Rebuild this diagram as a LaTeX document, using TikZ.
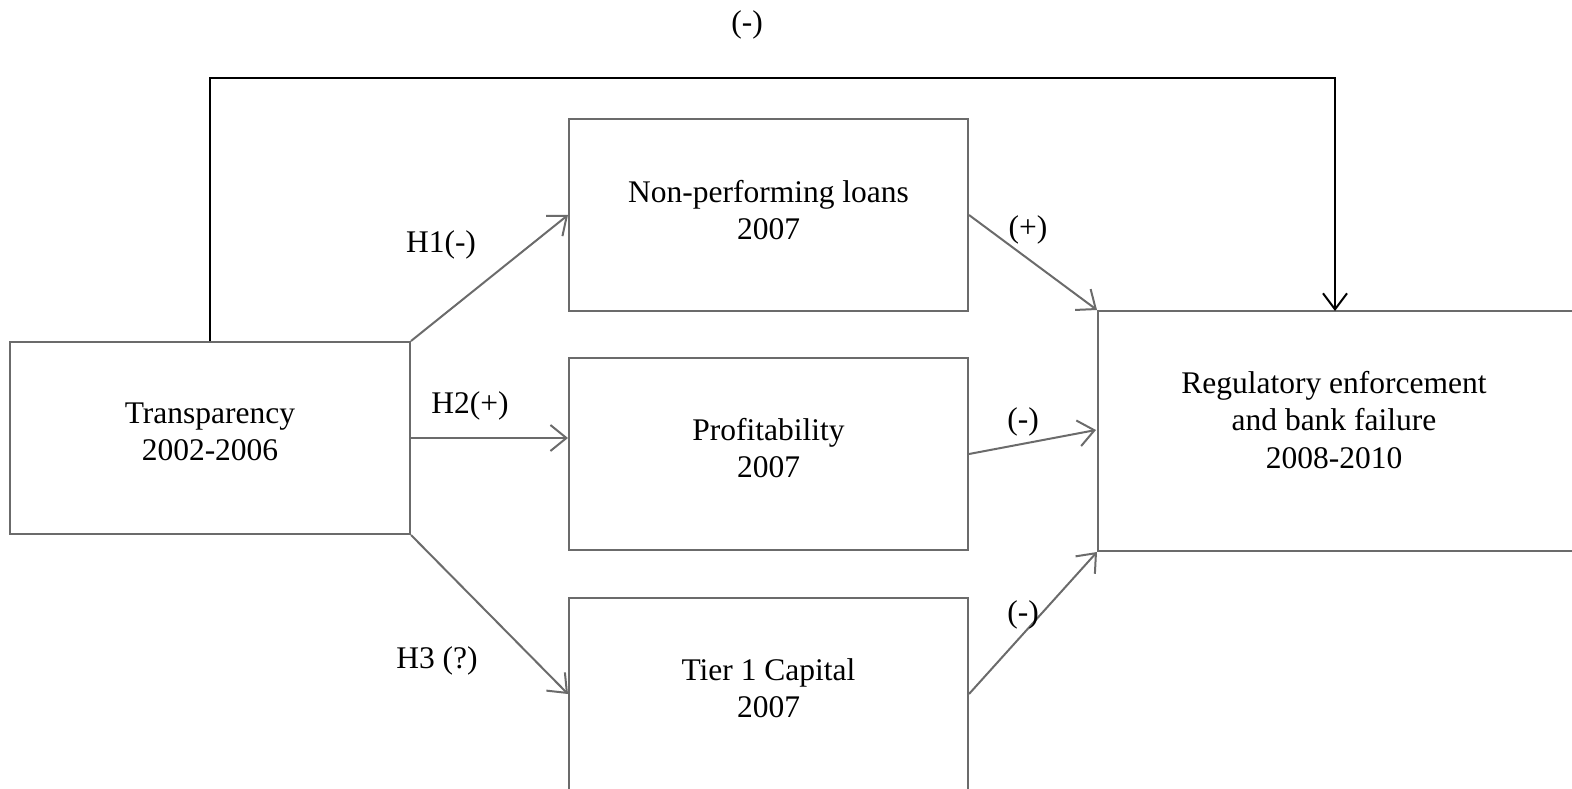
\documentclass[tikz,border=0pt]{standalone}
\usepackage{fontspec}
\setmainfont{Liberation Serif}
\usetikzlibrary{arrows.meta}
\definecolor{boxgrey}{HTML}{6B6B6B}
\begin{document}
\begin{tikzpicture}[x=1pt,y=-1pt,
  every node/.style={font=\fontsize{31.5}{37.5}\selectfont, inner sep=0pt},
  box/.style={draw=boxgrey, line width=2pt, rectangle},
  txt/.style={align=center},
  conn/.style={draw=boxgrey, line width=2pt, -{Straight Barb[length=16pt,width=26pt,line width=2pt]}},
  topconn/.style={draw=black, line width=2pt, -{Straight Barb[length=16pt,width=24pt,line width=2pt]}},
  lbl/.style={text=black}]
\useasboundingbox (0,0) rectangle (1572,789);
\clip (0,0) rectangle (1572,789);
\node[box, minimum width=400pt, minimum height=192pt] (trans) at (210,438) {};
\node[txt] (transtext) at (210,432) {Transparency\\2002-2006};
\node[box, minimum width=399pt, minimum height=192pt] (npl) at (768.5,215) {};
\node[txt] (npltext) at (768.5,210) {Non-performing loans\\2007};
\node[box, minimum width=399pt, minimum height=192pt] (prof) at (768.5,454) {};
\node[txt] (proftext) at (768.5,448) {Profitability\\2007};
\node[box, minimum width=399pt, minimum height=192pt] (tier) at (768.5,694) {};
\node[txt] (tiertext) at (768.5,688) {Tier 1 Capital\\2007};
\node[box, minimum width=520pt, minimum height=240pt] (reg) at (1358,431) {};
\node[txt] (regtext) at (1334,420) {Regulatory enforcement\\and bank failure\\2008-2010};
\coordinate (topL) at (210,78);
\coordinate (topR) at (1335,78);
\coordinate (regtop) at (1335,311);
\draw[topconn] (trans.north) -- (topL) -- (topR) -- (regtop);
\node[lbl] (lt) at (747,25) {(-)};
\draw[conn] (trans.north east) -- (npl.west);
\draw[conn] (trans.east) -- (trans.east -| prof.west);
\draw[conn] (trans.south east) -- (tier.west);
\draw[conn] (npl.east) -- (reg.north west);
\coordinate (regmid) at (1096,430);
\draw[conn] (prof.east) -- (regmid);
\draw[conn] (tier.east) -- (reg.south west);
\node[lbl] (h1) at (441,245) {H1(-)};
\node[lbl] (h2) at (470,406) {H2(+)};
\node[lbl] (h3) at (437,661) {H3 (?)};
\node[lbl] (l1) at (1028,230) {(+)};
\node[lbl] (l2) at (1023,422) {(-)};
\node[lbl] (l3) at (1023,615) {(-)};
\end{tikzpicture}
\end{document}
